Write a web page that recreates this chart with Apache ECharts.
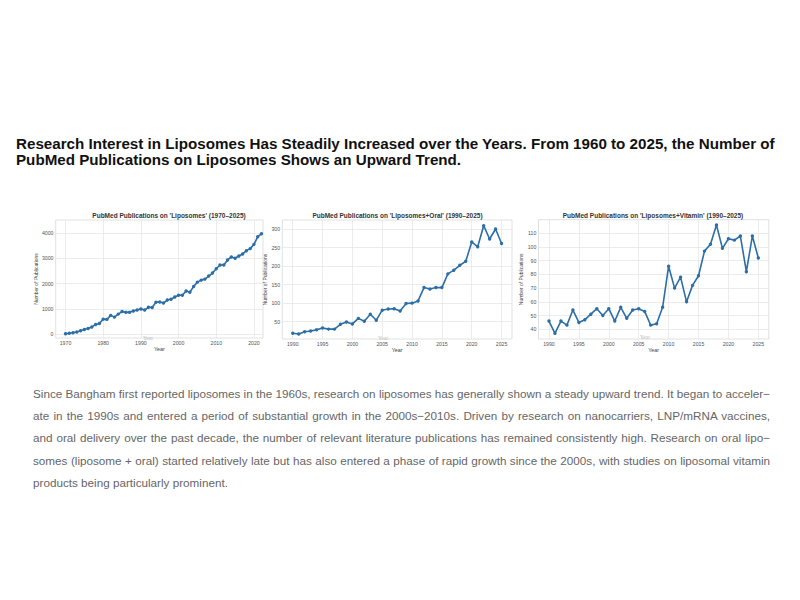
<!DOCTYPE html>
<html><head><meta charset="utf-8">
<script src="https://cdn.jsdelivr.net/npm/echarts@6/dist/echarts.min.js"></script>
<style>
html,body{margin:0;padding:0;background:#fff;width:800px;height:600px;overflow:hidden;}
#chart{position:absolute;left:0;top:0;width:800px;height:600px;}
.tl{position:absolute;left:16px;font-family:'Liberation Sans',Arial,sans-serif;font-weight:bold;color:#111;white-space:nowrap;line-height:1;}
.pl{position:absolute;left:33px;width:737px;font-family:'Liberation Sans',Arial,sans-serif;color:#666;line-height:1;text-align:justify;text-align-last:justify;}
.pl.last{text-align:left;text-align-last:left;}
</style></head>
<body>
<div id="chart"></div>
<div id="t1" class="tl">Research Interest in Liposomes Has Steadily Increased over the Years. From 1960 to 2025, the Number of</div>
<div id="t2" class="tl">PubMed Publications on Liposomes Shows an Upward Trend.</div>
<div class="pl">Since Bangham first reported liposomes in the 1960s, research on liposomes has generally shown a steady upward trend. It began to acceler−</div>
<div class="pl">ate in the 1990s and entered a period of substantial growth in the 2000s−2010s. Driven by research on nanocarriers, LNP/mRNA vaccines,</div>
<div class="pl">and oral delivery over the past decade, the number of relevant literature publications has remained consistently high. Research on oral lipo−</div>
<div class="pl">somes (liposome + oral) started relatively late but has also entered a phase of rapid growth since the 2000s, with studies on liposomal vitamin</div>
<div class="pl last">products being particularly prominent.</div>
<script>
// ---- data ----
const years1 = [1970,1971,1972,1973,1974,1975,1976,1977,1978,1979,1980,1981,1982,1983,1984,1985,1986,1987,1988,1989,
  1990,1991,1992,1993,1994,1995,1996,1997,1998,1999,2000,2001,2002,2003,2004,2005,2006,2007,2008,2009,
  2010,2011,2012,2013,2014,2015,2016,2017,2018,2019,2020,2021,2022];
const liposomes = [13,30,50,80,130,180,220,280,380,420,590,580,740,670,790,890,860,860,910,950,
  990,950,1060,1050,1260,1270,1230,1350,1380,1470,1540,1540,1710,1660,1890,2060,2140,2180,2300,2420,
  2590,2740,2740,2940,3060,3010,3100,3180,3310,3390,3560,3860,3985];
const years2 = [1990,1991,1992,1993,1994,1995,1996,1997,1998,1999,2000,2001,2002,2003,2004,2005,2006,2007,
  2008,2009,2010,2011,2012,2013,2014,2015,2016,2017,2018,2019,2020,2021,2022,2023,2024,2025];
const liposomesOral = [19,17,23,25,28,33,30,30,43,49,44,59,51,70,54,81,84,85,
  79,99,100,106,142,138,142,142,179,189,202,213,265,252,309,273,300,261];
const liposomesVitamin = [46,37,46,43,54,45,47,51,55,50,55,46,56,48,54,55,53,43,
  44,56,86,70,78,60,72,79,97,102,116,99,106,105,108,82,108,92];
const xTicks1 = [1970,1980,1990,2000,2010,2020];
const xTicks2 = [1990,1995,2000,2005,2010,2015,2020,2025];
const yTicks1 = [0,1000,2000,3000,4000];
const yTicks2 = [50,100,150,200,250,300];
const yTicks3 = [40,50,60,70,80,90,100,110];
const chartTitles = ["PubMed Publications on 'Liposomes' (1970–2025)",
  "PubMed Publications on 'Liposomes+Oral' (1990–2025)",
  "PubMed Publications on 'Liposomes+Vitamin' (1990–2025)"];

// ---- text fitting ----
(function(){
  const t1 = document.getElementById('t1'), t2 = document.getElementById('t2');
  let f = 15.4; t1.style.fontSize = f + 'px';
  const w = t1.getBoundingClientRect().width;
  f = f * 759 / w;
  [t1,t2].forEach(el => el.style.fontSize = f + 'px');
  const b1 = 148.6, b2 = b1 + f + 0.6;
  t1.style.top = (b1 - 0.8465*f) + 'px';
  t2.style.top = (b2 - 0.8465*f) + 'px';
  const pls = document.querySelectorAll('.pl');
  const base = [397.5, 419.9, 442.3, 464.7, 487.1];
  let pf = 12.4;
  function setP(){ pls.forEach((el,i)=>{ el.style.fontSize = pf+'px'; el.style.top = (base[i]-0.8465*pf)+'px'; }); }
  setP();
  let guard = 0;
  while (guard++ < 40 && Array.from(pls).some(el => el.getBoundingClientRect().height > pf*1.5)) { pf -= 0.05; setP(); }
})();

// ---- chart ----
const FF = "'Liberation Sans', Arial, sans-serif";
const LINE = '#2c6ea6';
const grids = [
  {left:55.7, top:220, width:207.3, height:118},
  {left:282.3, top:220, width:229.7, height:119},
  {left:538.5, top:219.7, width:230.3, height:119.3}
];
function xAx(gi, min, max, ticks){
  return {type:'value', gridIndex:gi, min:min, max:max,
    name:'Year', nameLocation:'middle', nameGap:8.3,
    nameTextStyle:{fontSize:5.4, color:'#444', fontFamily:FF},
    axisLine:{show:false}, axisTick:{show:false, customValues:ticks},
    axisLabel:{customValues:ticks, fontSize:5.2, color:'#555', margin:2.2, fontFamily:FF, formatter:v=>String(v)},
    splitLine:{show:true, lineStyle:{color:'#e4e4e4', width:0.7}}};
}
function yAx(gi, min, max, ticks, gap){
  return {type:'value', gridIndex:gi, min:min, max:max,
    name:'Number of Publications', nameLocation:'middle', nameGap:gap,
    nameTextStyle:{fontSize:5, color:'#444', fontFamily:FF},
    axisLine:{show:false}, axisTick:{show:false, customValues:ticks},
    axisLabel:{customValues:ticks, fontSize:5.2, color:'#555', margin:2.2, fontFamily:FF, formatter:v=>String(v)},
    splitLine:{show:true, lineStyle:{color:'#e4e4e4', width:0.7}}};
}
function ser(gi, xs, ys){
  return {type:'line', xAxisIndex:gi, yAxisIndex:gi, data: xs.map((x,i)=>[x, ys[i]]),
    symbol:'circle', symbolSize:3.4, showSymbol:true, animation:false,
    lineStyle:{color:LINE, width:1.6}, itemStyle:{color:LINE}, emphasis:{disabled:true}};
}
const titleX = [169, 397.5, 653];
const yearMarks = [[148,338],[383,338],[645,337]];
const graphics = [];
chartTitles.forEach((t,i)=>graphics.push({type:'text', x:titleX[i], y:215.7,
  style:{text:t, fontSize:6.5, fontWeight:'bold', fontFamily:FF, fill:'#333', align:'center', verticalAlign:'middle'}}));
yearMarks.forEach(p=>graphics.push({type:'text', x:p[0], y:p[1],
  style:{text:'Year', fontSize:5.5, fontFamily:"'Liberation Serif', serif", fill:'#bbbbbb', align:'center', verticalAlign:'middle'}}));

const chart = echarts.init(document.getElementById('chart'), null, {renderer:'svg'});
chart.setOption({
  animation:false,
  backgroundColor:'#ffffff',
  grid: grids.map(g=>Object.assign({show:true, borderColor:'#d4d4d4', borderWidth:0.7, backgroundColor:'#ffffff', containLabel:false}, g)),
  xAxis:[xAx(0,1967.4,2022.4,xTicks1), xAx(1,1988.25,2026.75,xTicks2), xAx(2,1988.25,2026.75,xTicks2)],
  yAxis:[yAx(0,-159,4528,yTicks1,14), yAx(1,3.3,324.3,yTicks2,11), yAx(2,32.9,119.9,yTicks3,11)],
  series:[ser(0,years1,liposomes), ser(1,years2,liposomesOral), ser(2,years2,liposomesVitamin)],
  graphic: graphics
});
</script>
</body></html>
